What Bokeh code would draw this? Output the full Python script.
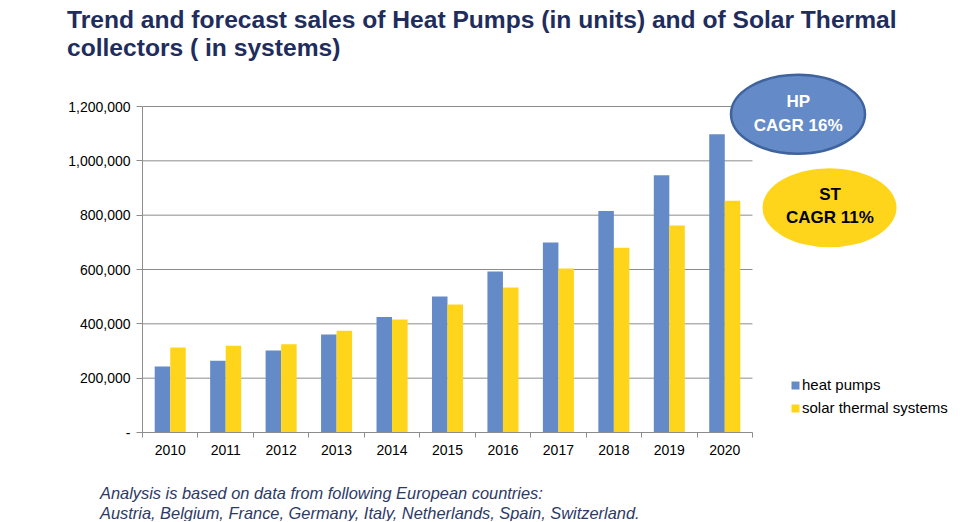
import numpy as np
from bokeh.plotting import figure
from bokeh.models import Range1d, FixedTicker, NumeralTickFormatter, Label
from bokeh.embed import file_html
from bokeh.resources import INLINE

# ---- data ----
years = ["2010", "2011", "2012", "2013", "2014", "2015", "2016", "2017", "2018", "2019", "2020"]
heat_pumps = [243000, 264000, 302000, 361000, 425000, 501000, 593000, 699000, 815000, 947000, 1098000]
solar_thermal = [313000, 319000, 325000, 375000, 416000, 471000, 534000, 604000, 680000, 762000, 853000]
y_ticks = [0, 200000, 400000, 600000, 800000, 1000000, 1200000]
series_names = ["heat pumps", "solar thermal systems"]
title_lines = ["Trend and forecast sales of Heat Pumps (in units) and of Solar Thermal",
               "collectors ( in systems)"]
note_lines = ["Analysis is based on data from following European countries:",
              "Austria, Belgium, France, Germany, Italy, Netherlands, Spain, Switzerland."]
hp_badge = ["HP", "CAGR 16%"]
st_badge = ["ST", "CAGR 11%"]

# ---- styles / geometry ----
FONT = "Liberation Sans"
HP_COLOR = "#648BC8"
ST_COLOR = "#FFD51C"
GRID_COLOR = "#8C8C8C"
TITLE_COLOR = "#1F2D5C"
NOTE_COLOR = "#2E3A66"

W, H = 966, 521
AX_LEFT, AX_BOTTOM = 142, 432          # canvas px of the axes origin
CAT_PX = 610 / len(years)               # px per category
Y_PX = 326 / y_ticks[-1]                # px per unit


def dx(px):
    return (px - AX_LEFT) / CAT_PX


def dy(py):
    return (AX_BOTTOM - py) / Y_PX


p = figure(width=W, height=H, output_backend="svg", toolbar_location=None,
           x_range=Range1d(dx(0), dx(W)), y_range=Range1d(dy(H), dy(0)),
           min_border_left=0, min_border_bottom=0, min_border_top=0, min_border_right=0)
p.outline_line_color = None
p.xgrid.visible = False
p.ygrid.visible = False

n = len(years)
centers = np.arange(n) + 0.5

# gridlines (between category bounds only)
gy = [t for t in y_ticks if t > 0]
p.segment(x0=[0] * len(gy), x1=[n] * len(gy), y0=gy, y1=gy, line_color=GRID_COLOR, line_width=1)

bw = 0.28
p.vbar(x=centers - bw / 2, top=heat_pumps, width=bw, fill_color=HP_COLOR, line_color=None,
       legend_label=series_names[0])
p.vbar(x=centers + bw / 2, top=solar_thermal, width=bw, fill_color=ST_COLOR, line_color=None,
       legend_label=series_names[1])

# x axis
xa = p.xaxis[0]
xa.fixed_location = 0
xa.ticker = FixedTicker(ticks=list(centers), minor_ticks=list(np.arange(n + 1).astype(float)))
xa.major_label_overrides = {float(c): y for c, y in zip(centers, years)}
xa.major_tick_out = 0
xa.major_tick_in = 0
xa.minor_tick_out = 5
xa.minor_tick_in = 0
xa.minor_tick_line_color = GRID_COLOR
xa.axis_line_color = GRID_COLOR
xa.bounds = (0, n)
xa.major_label_standoff = 7
xa.major_label_text_font = FONT
xa.major_label_text_font_size = "14px"
xa.major_label_text_color = "#000000"

# y axis
ya = p.yaxis[0]
ya.fixed_location = 0
ya.ticker = FixedTicker(ticks=y_ticks)
ya.formatter = NumeralTickFormatter(format="0,0")
ya.major_label_overrides = {0: "-"}
ya.bounds = (0, y_ticks[-1])
ya.major_tick_out = 6
ya.major_tick_in = 0
ya.minor_tick_out = 0
ya.minor_tick_in = 0
ya.major_tick_line_color = GRID_COLOR
ya.axis_line_color = GRID_COLOR
ya.major_label_standoff = 6
ya.major_label_text_font = FONT
ya.major_label_text_font_size = "14px"
ya.major_label_text_color = "#000000"

# legend
lg = p.legend[0]
lg.location = (790, 105)
lg.background_fill_alpha = 0
lg.border_line_color = None
lg.padding = 0
lg.margin = 0
lg.glyph_width = 10
lg.glyph_height = 10
lg.label_height = 17
lg.spacing = 6
lg.label_standoff = 2
lg.label_text_font = FONT
lg.label_text_font_size = "15px"
lg.label_text_color = "#000000"

# badges
p.ellipse(x=dx(797.5), y=dy(113.7), width=134, height=79, width_units="screen",
          height_units="screen", fill_color=HP_COLOR, line_color="#3F639C", line_width=2.5)
p.ellipse(x=dx(829), y=dy(207.2), width=134, height=79, width_units="screen",
          height_units="screen", fill_color=ST_COLOR, line_color=None)

for txt, (px, py) in zip(hp_badge, [(797.7, 100.5), (797.7, 124.5)]):
    p.add_layout(Label(x=dx(px), y=dy(py), text=txt, text_align="center", text_baseline="middle",
                       text_font=FONT, text_font_style="bold", text_font_size="17px",
                       text_color="#FFFFFF"))
for txt, (px, py) in zip(st_badge, [(829.5, 193.5), (829.5, 217)]):
    p.add_layout(Label(x=dx(px), y=dy(py), text=txt, text_align="center", text_baseline="middle",
                       text_font=FONT, text_font_style="bold", text_font_size="17px",
                       text_color="#000000"))

# title
for txt, py in zip(title_lines, [18.5, 46.5]):
    p.add_layout(Label(x=dx(66.5), y=dy(py), text=txt, text_align="left", text_baseline="middle",
                       text_font=FONT, text_font_style="bold", text_font_size="24.6px",
                       text_color=TITLE_COLOR))

# footnote
for txt, py in zip(note_lines, [492.7, 512.0]):
    p.add_layout(Label(x=dx(99.5), y=dy(py), text=txt, text_align="left", text_baseline="middle",
                       text_font=FONT, text_font_style="italic", text_font_size="16.4px",
                       text_color=NOTE_COLOR))

open("out.html", "w").write(file_html(p, INLINE))
